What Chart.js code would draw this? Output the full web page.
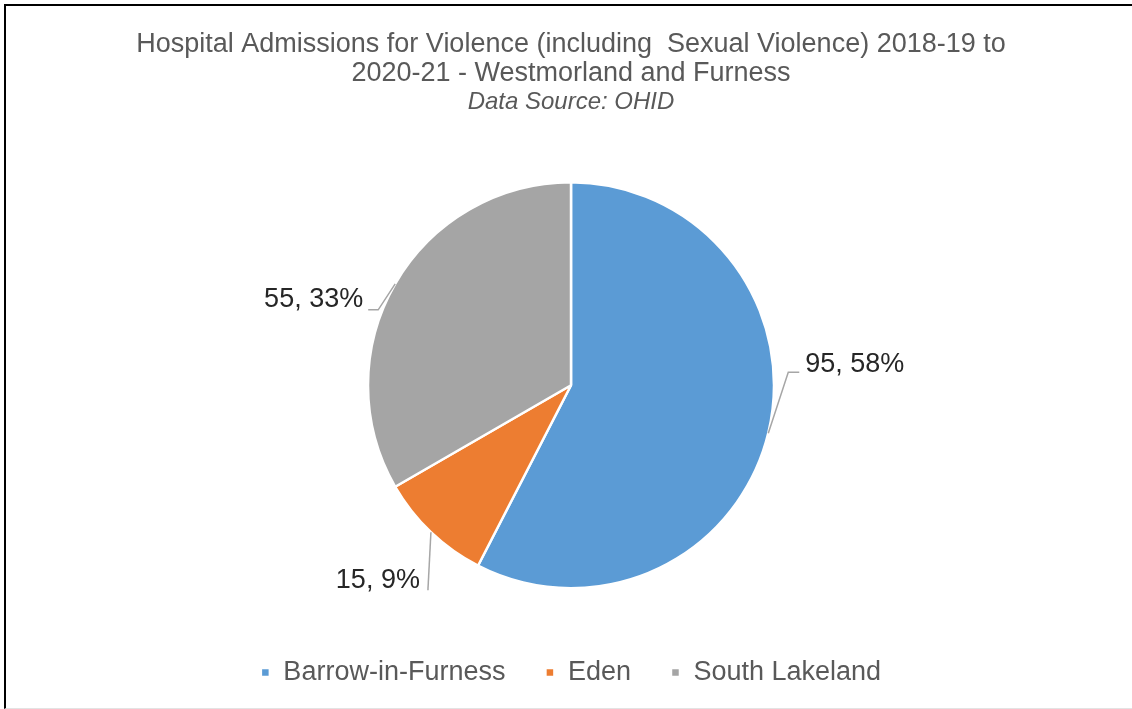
<!DOCTYPE html>
<html>
<head>
<meta charset="utf-8">
<script src="https://cdn.jsdelivr.net/npm/chart.js@4.4.1/dist/chart.umd.min.js"></script>
<style>
  html, body { margin: 0; padding: 0; background: #fff; overflow: hidden; }
  #wrap { position: relative; width: 1132px; height: 709px; }
  #frame {
    position: absolute; left: 4px; top: 4px; width: 1130px; height: 702px;
    border-left: 2px solid #000; border-top: 2px solid #000; border-bottom: 1px solid #e3e3e3;
    pointer-events: none;
  }
  canvas { position: absolute; left: 0; top: 0; }
</style>
</head>
<body>
<div id="wrap">
  <canvas id="pieChart" width="1132" height="709"></canvas>
  <div id="frame"></div>
</div>
<script>
// data
const districts = ['Barrow-in-Furness', 'Eden', 'South Lakeland'];
const admissions = [95, 15, 55];
const sliceColours = ['#5B9BD5', '#ED7D31', '#A5A5A5'];

const titleLines = ['Hospital Admissions for Violence (including  Sexual Violence) 2018-19 to', '2020-21 - Westmorland and Furness'];
const subtitleText = 'Data Source: OHID';

// leader line / label placement, relative to the slice's outer mid point
const labelLayout = [
  { path: [[20, -61], [31, -61]], text: [37, -69], align: 'left' },
  { path: [[-3, 58]], text: [-11, 48], align: 'right' },
  { path: [[-17, 26], [-27, 26]], text: [-32, 16], align: 'right' }
];

const FONT = "'Liberation Sans', Arial, sans-serif";

const leaderLabels = {
  id: 'leaderLabels',
  afterDatasetsDraw(chart) {
    const ctx = chart.ctx;
    const meta = chart.getDatasetMeta(0);
    const values = chart.data.datasets[0].data;
    const total = values.reduce((a, b) => a + b, 0);
    ctx.save();
    meta.data.forEach((arc, i) => {
      const p = arc.getProps(['x', 'y', 'startAngle', 'endAngle', 'outerRadius'], true);
      const mid = (p.startAngle + p.endAngle) / 2;
      const ax = p.x + Math.cos(mid) * p.outerRadius;
      const ay = p.y + Math.sin(mid) * p.outerRadius;
      const lay = labelLayout[i];

      ctx.strokeStyle = '#A6A6A6';
      ctx.lineWidth = 1.5;
      ctx.beginPath();
      ctx.moveTo(ax, ay);
      lay.path.forEach(pt => ctx.lineTo(ax + pt[0], ay + pt[1]));
      ctx.stroke();

      const pct = Math.round(values[i] / total * 100);
      ctx.fillStyle = '#262626';
      ctx.font = '27px ' + FONT;
      ctx.textAlign = lay.align;
      ctx.textBaseline = 'middle';
      ctx.fillText(`${values[i]}, ${pct}%`, ax + lay.text[0], ay + lay.text[1]);
    });
    ctx.restore();
  }
};

const ctx = document.getElementById('pieChart').getContext('2d');
new Chart(ctx, {
  type: 'pie',
  data: {
    labels: districts,
    datasets: [{
      data: admissions,
      backgroundColor: sliceColours,
      borderColor: '#ffffff',
      borderWidth: 2.5
    }]
  },
  options: {
    responsive: false,
    animation: false,
    radius: 203,
    layout: { padding: { left: 10, right: 0, top: 0, bottom: 13 } },
    plugins: {
      title: {
        display: true,
        text: titleLines,
        color: '#595959',
        font: { family: FONT, size: 27, weight: 'normal', lineHeight: 1.07 },
        padding: { top: 30, bottom: 0 }
      },
      subtitle: {
        display: true,
        text: subtitleText,
        color: '#595959',
        font: { family: FONT, size: 24, style: 'italic', weight: 'normal', lineHeight: 1.2 },
        padding: { top: 0, bottom: 35 }
      },
      legend: {
        position: 'bottom',
        labels: {
          boxWidth: 9,
          boxHeight: 9,
          padding: 40,
          color: '#595959',
          font: { family: FONT, size: 27 }
        }
      },
      tooltip: { enabled: false }
    }
  },
  plugins: [leaderLabels]
});
</script>
</body>
</html>
